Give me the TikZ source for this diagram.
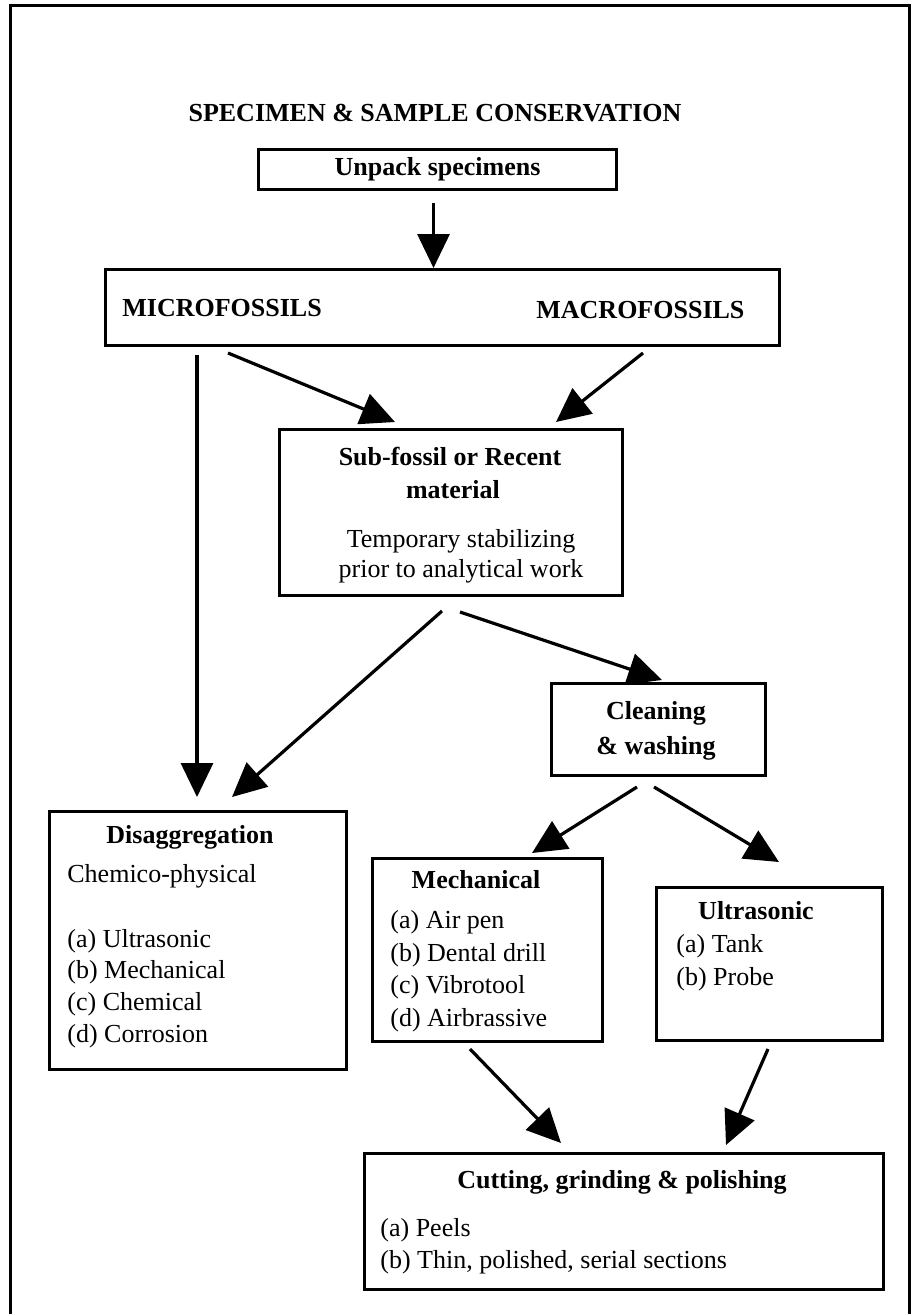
\documentclass[tikz,border=0pt]{standalone}
\usepackage{fontspec}
\setmainfont{Liberation Serif}
\usetikzlibrary{arrows.meta}

\begin{document}
\begin{tikzpicture}[x=0.5pt,y=-0.5pt,
    box/.style={draw,line width=1.5pt,inner sep=0pt,anchor=north west},
    arr/.style={line width=1.6pt,-{Triangle[length=17pt,width=16pt]}},
    txt/.style={inner sep=0pt,font=\fontsize{13}{15}\selectfont},
    head/.style={txt,font=\fontsize{13}{15}\selectfont\bfseries,anchor=base},
    item/.style={txt,anchor=base west}]
    \useasboundingbox (0,0) rectangle (912,1314);
    % outer frame, open at the bottom
    \draw[line width=1.5pt] (10,1314) -- (10,5) -- (909,5) -- (909,1314);
    \node[head] (title) at (435,121) {SPECIMEN \& SAMPLE CONSERVATION};

    % boxes
    \node[box,minimum width=179pt,minimum height=20pt,font=\fontsize{13}{15}\selectfont\bfseries] (unpack) at (257,148) {Unpack specimens};
    \node[box,minimum width=337pt,minimum height=38pt] (fossils) at (104,268) {};
    \node[box,minimum width=171.5pt,minimum height=83pt] (subfossil) at (278,428) {};
    \node[box,minimum width=107pt,minimum height=46pt] (cleaning) at (550,682) {};
    \node[box,minimum width=148.5pt,minimum height=129pt] (disagg) at (48,810) {};
    \node[box,minimum width=115pt,minimum height=91.5pt] (mech) at (371,857) {};
    \node[box,minimum width=113pt,minimum height=76.5pt] (ultra) at (655,886) {};
    \node[box,minimum width=259.5pt,minimum height=68pt] (cutting) at (363,1152) {};

    % texts in the boxes
    \node[head,anchor=base west] (micro) at (122,316) {MICROFOSSILS};
    \node[head,anchor=base west] (macro) at (536,318) {MACROFOSSILS};
    \node[head] (sub1) at (450,465) {Sub-fossil or Recent};
    \node[head] (sub2) at (453,498) {material};
    \node[txt,anchor=base] (sub3) at (461,547) {Temporary stabilizing};
    \node[txt,anchor=base] (sub4) at (461,577) {prior to analytical work};
    \node[head] (clean1) at (656,719) {Cleaning};
    \node[head] (clean2) at (656,754) {\& washing};
    \node[head] (dis0) at (190,843) {Disaggregation};
    \node[item] (dis1) at (67,882) {Chemico-physical};
    \node[item] (dis2) at (67,947) {(a) Ultrasonic};
    \node[item] (dis3) at (67,978) {(b) Mechanical};
    \node[item] (dis4) at (67,1010) {(c) Chemical};
    \node[item] (dis5) at (67,1042) {(d) Corrosion};
    \node[head] (mech0) at (476,888) {Mechanical};
    \node[item] (mech1) at (390,928) {(a) Air pen};
    \node[item] (mech2) at (390,961) {(b) Dental drill};
    \node[item] (mech3) at (390,993) {(c) Vibrotool};
    \node[item] (mech4) at (390,1026) {(d) Airbrassive};
    \node[head] (ultra0) at (756,919) {Ultrasonic};
    \node[item] (ultra1) at (676,952) {(a) Tank};
    \node[item] (ultra2) at (676,985) {(b) Probe};
    \node[head] (cut0) at (622,1188) {Cutting, grinding \& polishing};
    \node[item] (cut1) at (380,1236) {(a) Peels};
    \node[item] (cut2) at (380,1268) {(b) Thin, polished, serial sections};

    % arrows
    \draw[arr] ([shift={(-4,12)}]unpack.south) -- ([shift={(-9,0)}]fossils.north);
    \draw[arr] ([shift={(93,8)}]fossils.south west) -- ([shift={(149,-13)}]disagg.north west);
    \draw[arr] ([shift={(124,6)}]fossils.south west) -- ([shift={(117,-6)}]subfossil.north west);
    \draw[arr] ([shift={(-138,6)}]fossils.south east) -- ([shift={(278,-6)}]subfossil.north west);
    \draw[arr] ([shift={(164,14)}]subfossil.south west) -- ([shift={(184,-13)}]disagg.north west);
    \draw[arr] ([shift={(182,15)}]subfossil.south west) -- ([shift={(112,-2)}]cleaning.north west);
    \draw[arr] ([shift={(87,10)}]cleaning.south west) -- ([shift={(161,-4)}]mech.north west);
    \draw[arr] ([shift={(104,10)}]cleaning.south west) -- ([shift={(124,-24)}]ultra.north west);
    \draw[arr] ([shift={(99,6)}]mech.south west) -- ([shift={(198,-9)}]cutting.north west);
    \draw[arr] ([shift={(113,7)}]ultra.south west) -- ([shift={(363,-7)}]cutting.north west);
\end{tikzpicture}
\end{document}
